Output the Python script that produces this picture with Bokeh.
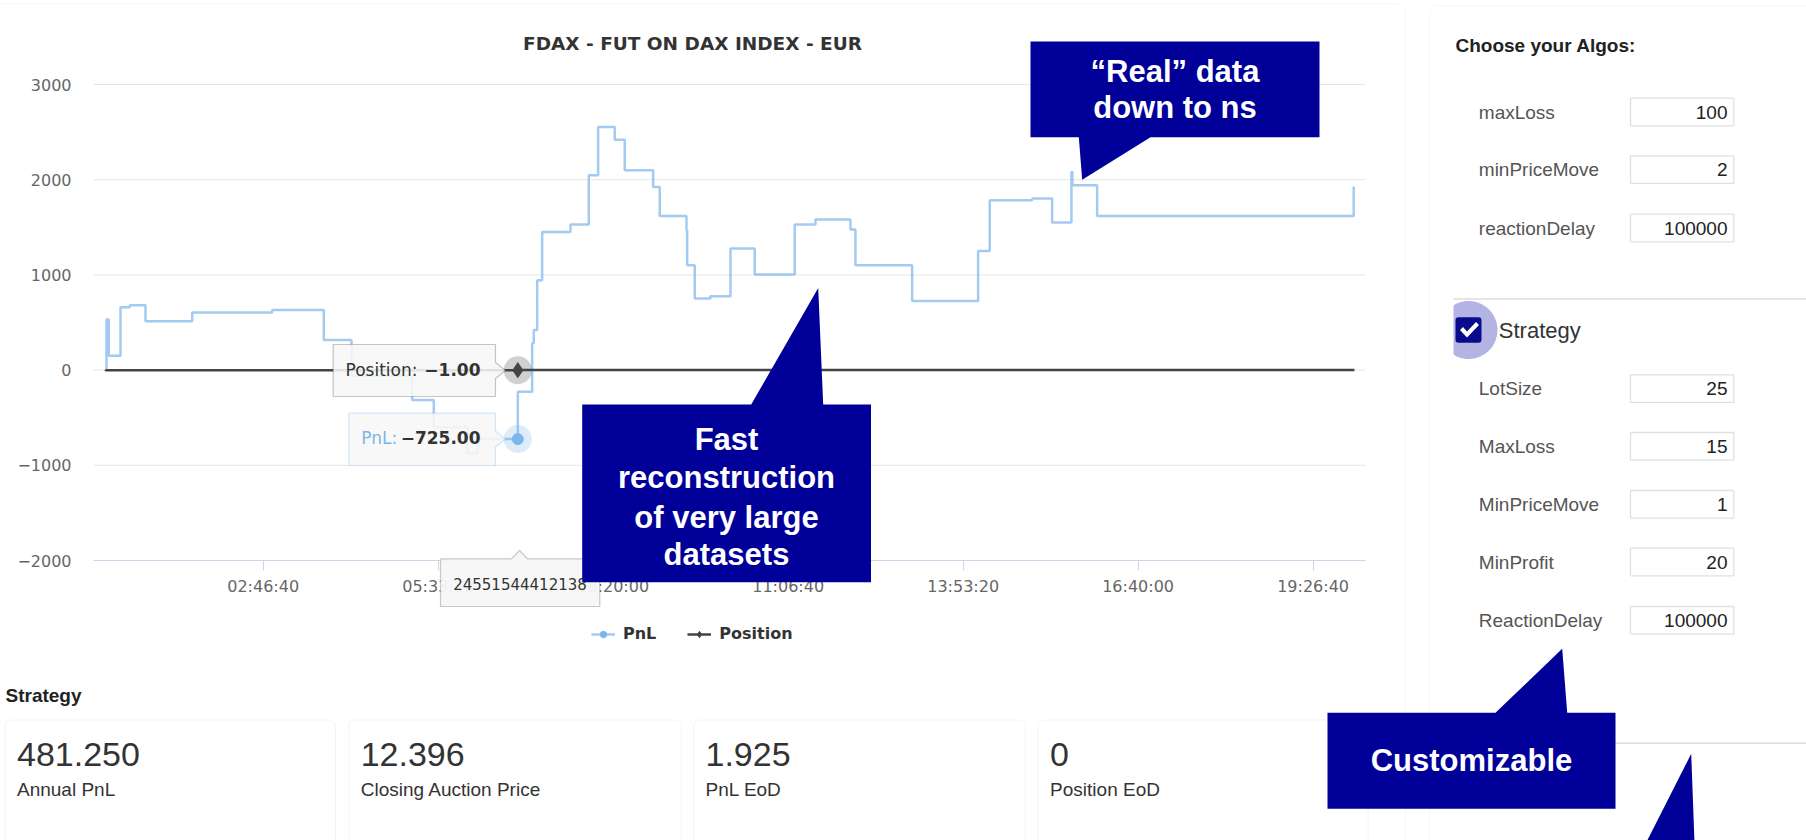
import numpy as np
from bokeh.plotting import figure
from bokeh.models import (Range1d, FixedTicker, Label, BoxAnnotation, PolyAnnotation,
                          Legend, LegendItem, LinearAxis)
from bokeh.embed import file_html
from bokeh.resources import INLINE

# ---------------- data ----------------
pnl_time = [1046, 1177, 1846, 2377, 3274, 5943, 10514, 13463, 15046, 18514, 19749,
            21674, 22246, 24551.544412138, 25371, 25463, 25657, 25943, 27560, 28606,
            29143, 30091, 30663, 32286, 32663, 34189, 34229, 34663, 35560, 36703,
            38091, 40377, 41560, 43560, 43846, 47086, 50857, 51520, 53943, 55086,
            56189, 56246, 57657, 72320, 72337]
pnl_value = [0, 531, 150, 660, 682, 514, 605, 630, 315, -60, -315,
             -600, -870, -725, -227, 283, 420, 944, 1451, 1529,
             2046, 2553, 2420, 2099, 1924, 1619, 1469, 1102, 752, 776,
             1277, 1004, 1529, 1581, 1476, 1102, 727, 1252, 1784, 1802,
             1550, 2081, 1941, 1619, 1924]

position_time = [989, 18000, 24551.544412138, 26500, 36000, 52000, 72360]
position_value = [0, -1, -1, 0, 1, 0, 0]

hover_time = [24551.544412138]
hover_pnl = [-725.0]
hover_position = [-1.0]
hover_time_label = "24551544412138"

x_tick_seconds = [10000, 20000, 30000, 40000, 50000, 60000, 70000]
x_tick_labels = ["02:46:40", "05:33:20", "08:20:00", "11:06:40", "13:53:20", "16:40:00", "19:26:40"]
y_ticks = [-2000, -1000, 0, 1000, 2000, 3000]

kpi_values = ["481.250", "12.396", "1.925", "0"]
kpi_labels = ["Annual PnL", "Closing Auction Price", "PnL EoD", "Position EoD"]

algo_params = ["maxLoss", "minPriceMove", "reactionDelay"]
algo_values = ["100", "2", "100000"]
strategy_params = ["LotSize", "MaxLoss", "MinPriceMove", "MinProfit", "ReactionDelay"]
strategy_values = ["25", "15", "1", "20", "100000"]

# ---------------- layout ----------------
W, H = 1806, 840
FL, FR, FT, FB = 93, 1365, 84, 560        # chart plot area in page pixels
T0, T1 = 303, 72994                       # visible time span of the chart
V0, V1 = -2000, 3000                      # visible value span of the chart
NAVY = "#000099"
PNL_C = "#7cb5ec"
POS_C = "#434348"

# main ranges = page pixels (decorations); chart data on extra ranges
kx = (T1 - T0) / (FR - FL)
ky = (V1 - V0) / (FB - FT)
t_range = Range1d(T0 - FL * kx, T1 + (W - FR) * kx)
v_range = Range1d(V0 - (H - FB) * ky, V1 + FT * ky)

p = figure(width=W, height=H, output_backend="svg", toolbar_location=None,
           x_range=Range1d(0, W), y_range=Range1d(H, 0),
           x_axis_type=None, y_axis_type=None,
           min_border_left=0, min_border_right=0, min_border_top=0, min_border_bottom=0)
p.outline_line_color = None
p.background_fill_color = "white"
p.border_fill_color = "white"
p.extra_x_ranges = {"t": t_range}
p.extra_y_ranges = {"v": v_range}

# horizontal grid lines, only across the chart's plot area
p.segment(x0=[T0] * len(y_ticks), x1=[T1] * len(y_ticks), y0=y_ticks, y1=y_ticks,
          line_color="#e6e6e6", line_width=1, level="underlay",
          x_range_name="t", y_range_name="v")

xa = LinearAxis(x_range_name="t", y_range_name="v", fixed_location=V0, bounds=(T0, T1),
                ticker=FixedTicker(ticks=x_tick_seconds))
xa.major_label_overrides = {t: l for t, l in zip(x_tick_seconds, x_tick_labels)}
xa.axis_line_color = "#ccd6eb"
xa.major_tick_line_color = "#ccd6eb"
xa.major_tick_out = 10
xa.major_tick_in = 0
xa.minor_tick_line_color = None
xa.major_label_text_font = "DejaVu Sans"
xa.major_label_text_font_size = "16px"
xa.major_label_text_color = "#666666"
xa.major_label_standoff = 6
p.add_layout(xa, "below")

ya = LinearAxis(x_range_name="t", y_range_name="v", fixed_location=T0,
                ticker=FixedTicker(ticks=y_ticks))
ya.axis_line_color = None
ya.major_tick_line_color = None
ya.major_tick_out = 0
ya.major_tick_in = 0
ya.minor_tick_line_color = None
ya.major_label_text_font = "DejaVu Sans"
ya.major_label_text_font_size = "16px"
ya.major_label_text_color = "#666666"
ya.major_label_standoff = 22
p.add_layout(ya, "left")


def box(l, r, t, b, fill=None, line=None, lw=1.0, radius=0, alpha=1.0, level="annotation"):
    p.add_layout(BoxAnnotation(left=l, right=r, top=t, bottom=b,
                               fill_color=fill, fill_alpha=alpha if fill else 0,
                               line_color=line, line_width=lw, border_radius=radius,
                               level=level))


def poly(pts, fill, line=None, alpha=1.0, lw=1.0):
    p.add_layout(PolyAnnotation(xs=[float(a) for a, _ in pts], ys=[float(b) for _, b in pts],
                                fill_color=fill, fill_alpha=alpha,
                                line_color=line, line_width=lw))


def text(x, y, s, size, color="#333333", font="Liberation Sans", bold=False, align="left"):
    p.add_layout(Label(x=x, y=y, text=s,
                       text_font=font, text_font_size=f"{size}px", text_color=color,
                       text_font_style="bold" if bold else "normal",
                       text_align=align, text_baseline="middle"))


# cards (outlines only, drawn under the chart)
box(-20, 1405, 3, 900, line="#e4e4e4", radius=8, level="underlay")
box(1429, 1840, 5, 900, line="#e4e4e4", radius=8, level="underlay")
card_lefts = [4.5, 348.2, 693.0, 1037.6]
card_rights = [335.0, 680.8, 1024.6, 1367.7]
for l, r in zip(card_lefts, card_rights):
    box(l, r, 719.5, 900, line="#dedede", radius=6, level="underlay")

# ---------------- series ----------------
pnl_r = p.step(pnl_time, pnl_value, mode="before", line_color=PNL_C, line_alpha=0.7,
               line_width=2.5, x_range_name="t", y_range_name="v")
pos_r = p.step(position_time, position_value, mode="before", line_color=POS_C, line_width=2.5,
               x_range_name="t", y_range_name="v")
p.scatter(hover_time, hover_position, marker="circle", size=28, fill_color=POS_C,
          fill_alpha=0.25, line_color=None, x_range_name="t", y_range_name="v")
p.scatter(hover_time, hover_pnl, marker="circle", size=28, fill_color=PNL_C,
          fill_alpha=0.25, line_color=None, x_range_name="t", y_range_name="v")
pos_m = p.scatter(hover_time, hover_position, marker="diamond", size=15, fill_color=POS_C,
                  line_color=POS_C, x_range_name="t", y_range_name="v")
pnl_m = p.scatter(hover_time, hover_pnl, marker="circle", size=11, fill_color=PNL_C,
                  line_color=PNL_C, x_range_name="t", y_range_name="v")

legend = Legend(items=[LegendItem(label="PnL", renderers=[pnl_r, pnl_m]),
                       LegendItem(label="Position", renderers=[pos_r, pos_m])],
                orientation="horizontal", location=(591, H - 643),
                label_text_font="DejaVu Sans", label_text_font_style="bold",
                label_text_font_size="16px", label_text_color="#333333",
                glyph_width=24, glyph_height=16, label_standoff=8, spacing=31,
                padding=0, margin=0, border_line_color=None, background_fill_alpha=0)
p.add_layout(legend)

# title
text(692, 43, "FDAX - FUT ON DAX INDEX - EUR", 18.5, color="#333333", font="DejaVu Sans", bold=True, align="center")

# ---------------- tooltips ----------------
poly([(332.7, 344), (495, 344), (495, 362), (505, 370), (495, 378), (495, 396), (332.7, 396)],
     "#f7f7f7", line=POS_C, alpha=0.88, lw=1.2)
text(345, 369, "Position: ", 17, font="DejaVu Sans")
text(480, 369, "\u22121.00", 17, font="DejaVu Sans", bold=True, align="right")

poly([(348.3, 412.7), (495, 412.7), (495, 430.5), (505, 438.5), (495, 446.5), (495, 465), (348.3, 465)],
     "#f7f7f7", line=PNL_C, alpha=0.88, lw=1.2)
text(360.7, 437, "PnL: ", 17, color=PNL_C, font="DejaVu Sans")
text(480, 437, "\u2212725.00", 17, font="DejaVu Sans", bold=True, align="right")

poly([(440, 558.3), (511, 558.3), (519, 550), (527, 558.3), (599.3, 558.3), (599.3, 606), (440, 606)],
     "#f7f7f7", line="#555555", alpha=0.95, lw=1.2)
text(519.5, 583, hover_time_label, 15, font="DejaVu Sans", align="center")

# ---------------- right panel ----------------
text(1455, 44.5, "Choose your Algos:", 19, color="#222222", bold=True)
algo_rows = [111.7, 169.3, 227.7]
for yy, name, val in zip(algo_rows, algo_params, algo_values):
    text(1478.3, yy, name, 19, color="#555555")
    box(1630, 1733.3, yy - 14, yy + 13.6, line="#9a9a9a", lw=1.3)
    text(1727, yy, val, 19, color="#222222", align="right")

box(1453, 1830, 297.8, 299.2, fill="#dcdcdc")
ang = np.linspace(0, 2 * np.pi, 73)
cx, cy, rr = 1468.0, 329.5, 29.0
hx = np.clip(cx + rr * np.cos(ang), 1453, None)
hy = cy + rr * np.sin(ang)
poly(list(zip(hx, hy)), "#b3b4e4", alpha=1.0)
box(1455, 1481, 316.7, 342.3, fill="#0a0a8c", radius=3)
poly([(1459.5, 329.5), (1462.5, 326.5), (1466.5, 331.0), (1475.5, 321.5), (1478.5, 324.5), (1466.5, 337.0)],
     "white")
text(1498.3, 330, "Strategy", 22, color="#333333")

strat_rows = [388.3, 446.0, 504.0, 561.7, 620.0]
for yy, name, val in zip(strat_rows, strategy_params, strategy_values):
    text(1478.3, yy, name, 19, color="#555555")
    box(1630, 1733.3, yy - 14, yy + 13.6, line="#9a9a9a", lw=1.3)
    text(1727, yy, val, 19, color="#222222", align="right")

box(1453, 1830, 742.0, 743.4, fill="#dcdcdc")

# ---------------- KPI cards ----------------
text(5, 695, "Strategy", 19, color="#222222", bold=True)
for l, v, lab in zip(card_lefts, kpi_values, kpi_labels):
    text(l + 12, 753.5, v, 34, color="#333333")
    text(l + 12, 788.5, lab, 19, color="#333333")

# ---------------- callouts ----------------
poly([(1030, 41), (1319, 41), (1319, 136.7), (1150, 136.7), (1081.7, 179.3), (1078.3, 136.7), (1030, 136.7)], NAVY)
text(1174.5, 71, "\u201cReal\u201d data", 31, color="white", bold=True, align="center")
text(1174.5, 107, "down to ns", 31, color="white", bold=True, align="center")

poly([(581.7, 581.7), (581.7, 404), (750.7, 404), (817.7, 287.5), (822.7, 404), (870.5, 404), (870.5, 581.7)], NAVY)
for yy, s in zip([438.5, 477, 516.5, 553.5], ["Fast", "reconstruction", "of very large", "datasets"]):
    text(726, yy, s, 31, color="white", bold=True, align="center")

poly([(1327, 808.3), (1327, 712.3), (1495, 712.3), (1561.7, 648.3), (1566.7, 712.3), (1615, 712.3), (1615, 808.3)], NAVY)
text(1471, 760, "Customizable", 31, color="white", bold=True, align="center")

poly([(1641.7, 850), (1690.7, 753.3), (1694.3, 850)], NAVY)

open("out.html", "w").write(file_html(p, INLINE))
